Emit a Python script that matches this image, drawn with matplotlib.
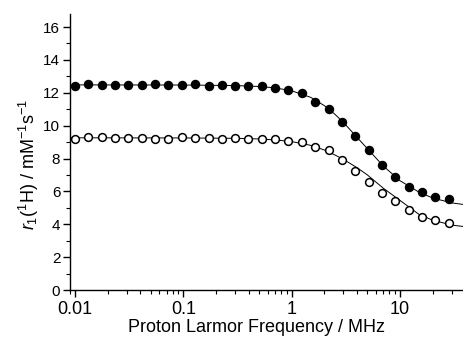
import matplotlib
matplotlib.use("Agg")
import matplotlib.pyplot as plt
from matplotlib.ticker import LogLocator, MultipleLocator, NullFormatter, FixedFormatter, FixedLocator

plt.rcParams['font.family'] = ['Liberation Sans', 'DejaVu Sans']
plt.rcParams['mathtext.fontset'] = 'custom'
plt.rcParams['mathtext.rm'] = 'Liberation Sans'
plt.rcParams['mathtext.it'] = 'Liberation Sans:italic'

# measured points (MHz)
freq = [0.01, 0.0133, 0.0176, 0.0234, 0.0311, 0.0413, 0.0548, 0.0728, 0.0967,
        0.128, 0.171, 0.226, 0.301, 0.399, 0.530, 0.704, 0.935, 1.24, 1.65,
        2.19, 2.91, 3.86, 5.13, 6.81, 9.04, 12.0, 15.9, 21.2, 28.1]
r1_filled = [12.43, 12.54, 12.47, 12.50, 12.47, 12.47, 12.52, 12.50, 12.47,
             12.52, 12.43, 12.45, 12.39, 12.41, 12.39, 12.29, 12.17, 11.99, 11.43,
             11.00, 10.21, 9.38, 8.54, 7.58, 6.89, 6.26, 5.95, 5.67, 5.54]
r1_open = [9.21, 9.32, 9.29, 9.27, 9.27, 9.23, 9.21, 9.21, 9.32,
           9.25, 9.27, 9.21, 9.25, 9.21, 9.21, 9.17, 9.07, 9.03, 8.70,
           8.52, 7.91, 7.24, 6.60, 5.93, 5.42, 4.85, 4.46, 4.24, 4.08]

# fitted curves
fit_freq = [0.009, 0.1, 0.3, 0.5, 0.7, 1.0, 1.5, 2.0, 2.5, 3.0, 4.0, 5.0,
            7.0, 10.0, 15.0, 20.0, 30.0, 39.0]
fit_filled = [12.48, 12.47, 12.44, 12.38, 12.30, 12.12, 11.72, 11.22, 10.70, 10.20,
              9.30, 8.60, 7.55, 6.65, 5.95, 5.60, 5.30, 5.20]
fit_open = [9.26, 9.25, 9.23, 9.19, 9.13, 9.03, 8.80, 8.52, 8.22, 7.95,
            7.45, 7.00, 6.20, 5.45, 4.60, 4.25, 3.95, 3.86]

fig = plt.figure(figsize=(4.64, 3.38), dpi=100)
ax = fig.add_axes([0.151, 0.142, 0.849, 0.817])

ax.plot(fit_freq, fit_filled, color='black', lw=0.7)
ax.plot(fit_freq, fit_open, color='black', lw=0.7)
ax.plot(freq, r1_filled, 'o', color='black', ms=5.8, zorder=3)
ax.plot(freq, r1_open, 'o', mfc='white', mec='black', mew=1.1, ms=5.6, zorder=3)

ax.set_xscale('log')
ax.set_xlim(0.009, 39)
ax.set_ylim(0, 16.8)

ax.xaxis.set_major_locator(FixedLocator([0.01, 0.1, 1, 10]))
ax.xaxis.set_major_formatter(FixedFormatter(['0.01', '0.1', '1', '10']))
ax.xaxis.set_minor_locator(LogLocator(base=10, subs=range(2, 10)))
ax.xaxis.set_minor_formatter(NullFormatter())
ax.yaxis.set_major_locator(MultipleLocator(2))
ax.yaxis.set_minor_locator(MultipleLocator(1))

for s in ['top', 'right']:
    ax.spines[s].set_visible(False)
ax.spines['left'].set_linewidth(1.0)
ax.spines['bottom'].set_linewidth(1.0)

ax.tick_params(axis='x', which='major', direction='out', length=5, width=1, labelsize=13, pad=3)
ax.tick_params(axis='x', which='minor', direction='out', length=3, width=0.8)
ax.tick_params(axis='y', which='major', direction='out', length=5, width=1, labelsize=11, pad=2)
ax.tick_params(axis='y', which='minor', direction='out', length=3, width=0.8)

ax.set_xlabel('Proton Larmor Frequency / MHz', fontsize=13)
ax.set_ylabel(r'$r_1$($^1$H) / mM$^{-1}$s$^{-1}$', fontsize=13)
ax.xaxis.set_label_coords(0.472, -0.105)
ax.yaxis.set_label_coords(-0.075, 0.453)

fig.savefig('out.png', dpi=100)
